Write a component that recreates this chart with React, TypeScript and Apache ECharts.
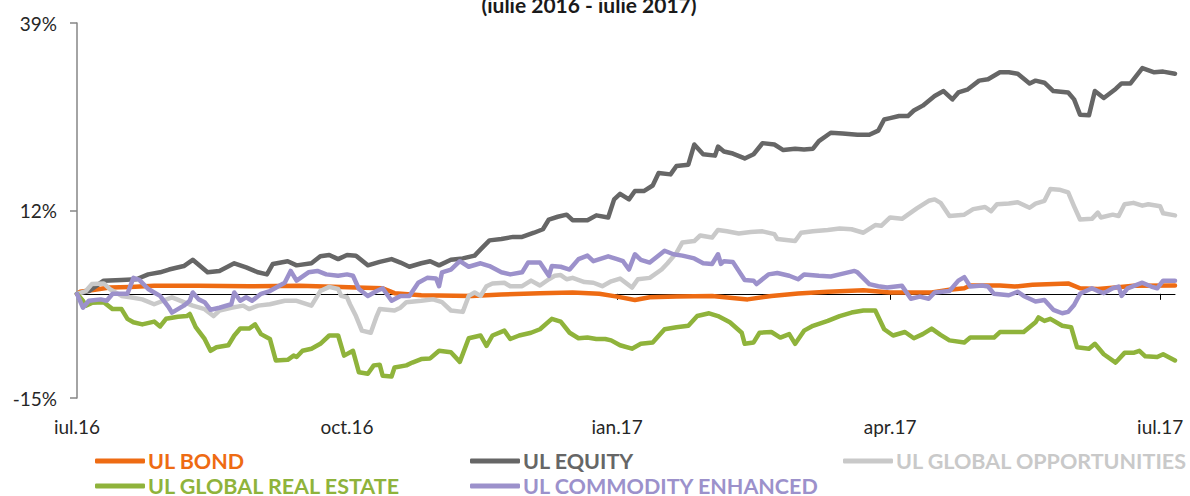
import React, { useEffect, useRef } from "react";
import * as echarts from "echarts";

// ---- tick labels (x axis, positions in days from start) ----
const tickDays = [0, 91, 182, 274, 365];
const tickLabels = ["iul.16", "oct.16", "ian.17", "apr.17", "iul.17"];
const yTicks = [-15, 12, 39];

const seriesNames = [
  "UL BOND",
  "UL EQUITY",
  "UL GLOBAL OPPORTUNITIES",
  "UL GLOBAL REAL ESTATE",
  "UL COMMODITY ENHANCED",
];
const seriesColors = ["#EE6B13", "#666666", "#C9C9C9", "#8FB33B", "#9C91CB"];

// ---- UL BOND ----
const bondDays = [0, 1, 6, 11, 18, 26, 41, 58, 75, 89, 94, 103, 107, 116, 133, 143, 156, 167, 176, 182, 188, 193, 202, 214, 226, 234, 243, 253, 265, 274, 288, 294, 299, 301, 311, 316, 322, 334, 338, 344, 350, 356, 370];
const bondValues = [0, 0.3, 0.6, 0.9, 1.0, 1.15, 1.15, 1.1, 1.15, 1.0, 0.9, 0.8, 0.1, -0.2, -0.3, -0.1, 0.1, 0.2, 0.0, -0.4, -0.9, -0.5, -0.4, -0.3, -0.8, -0.3, 0.05, 0.3, 0.5, 0.2, 0.2, 0.6, 0.8, 1.2, 1.2, 1.05, 1.3, 1.5, 0.8, 0.7, 0.9, 1.15, 1.2];

// ---- UL EQUITY ----
const equityDays = [0, 4, 9, 15, 20, 24, 28, 31, 36, 39, 44, 48, 53, 57, 61, 64, 66, 71, 74, 79, 82, 85, 88, 91, 94, 98, 102, 106, 109, 112, 116, 119, 122, 126, 130, 134, 136, 139, 143, 147, 150, 154, 157, 159, 162, 165, 167, 172, 175, 179, 181, 183, 186, 188, 191, 194, 196, 200, 202, 206, 208, 211, 215, 216, 218, 221, 225, 228, 231, 235, 238, 242, 245, 248, 250, 254, 258, 263, 267, 270, 272, 274, 277, 280, 282, 285, 289, 292, 295, 297, 300, 304, 307, 311, 314, 317, 321, 323, 326, 329, 334, 336, 338, 341, 343, 346, 350, 352, 355, 359, 363, 366, 370];
const equityValues = [0, 0.4, 1.9, 2.0, 2.1, 2.8, 3.1, 3.5, 4.0, 4.9, 3.1, 3.3, 4.4, 3.8, 3.1, 2.8, 4.3, 4.7, 4.1, 4.4, 5.4, 5.6, 5.0, 5.6, 5.5, 4.1, 4.6, 5.0, 4.5, 3.9, 4.4, 4.7, 4.1, 4.9, 5.1, 5.5, 6.4, 7.7, 7.9, 8.2, 8.2, 8.8, 9.3, 10.7, 11.1, 11.4, 10.6, 10.6, 11.3, 11.0, 13.6, 14.4, 13.6, 14.8, 14.8, 15.6, 17.4, 17.2, 18.4, 18.6, 21.5, 20.1, 19.9, 21.2, 20.5, 20.2, 19.5, 20.1, 21.7, 21.5, 20.7, 20.9, 20.8, 20.9, 22.0, 23.2, 23.1, 22.9, 22.9, 23.5, 25.1, 25.3, 25.6, 25.6, 26.4, 27.1, 28.5, 29.2, 28.0, 29.0, 29.4, 30.7, 30.9, 31.9, 31.9, 31.7, 30.3, 30.7, 30.4, 29.2, 29.0, 28.0, 25.8, 25.7, 29.2, 28.2, 29.5, 30.3, 30.3, 32.5, 31.9, 32.0, 31.7];

// ---- UL GLOBAL OPPORTUNITIES ----
const oppDays = [0, 3, 5, 9, 11, 15, 18, 22, 26, 29, 32, 36, 39, 43, 46, 48, 52, 56, 58, 61, 65, 70, 74, 79, 82, 85, 88, 89, 91, 92, 94, 96, 99, 101, 102, 107, 109, 111, 116, 120, 123, 126, 130, 132, 134, 136, 138, 140, 144, 146, 150, 153, 156, 159, 161, 163, 165, 167, 171, 174, 177, 180, 183, 187, 189, 193, 197, 199, 202, 204, 208, 210, 214, 216, 219, 223, 227, 231, 235, 236, 242, 244, 248, 253, 257, 261, 265, 269, 271, 274, 278, 280, 283, 287, 289, 291, 294, 299, 302, 306, 308, 310, 314, 317, 321, 323, 326, 328, 331, 334, 336, 338, 342, 344, 345, 349, 351, 353, 356, 359, 361, 365, 366, 370];
const oppValues = [0, 0.4, 1.4, 1.5, 0.7, -0.3, -0.5, -0.8, -1.5, -1.0, -0.5, -1.2, -1.7, -2.2, -3.2, -2.4, -2.0, -1.7, -2.2, -1.7, -1.5, -1.0, -1.0, -1.7, 0.4, 1.0, 0.7, -0.3, -0.5, -1.5, -3.2, -5.3, -5.6, -3.2, -2.2, -2.4, -2.0, -1.2, -1.0, -0.8, -1.2, -2.4, -2.6, -0.3, 0.2, -0.3, 1.1, 1.5, 1.6, 1.1, 1.1, 1.9, 1.2, 2.1, 2.6, 2.7, 2.1, 2.3, 1.7, 1.6, 1.1, 1.8, 2.2, 0.9, 2.1, 2.3, 3.5, 4.4, 5.9, 7.4, 7.6, 8.4, 8.1, 9.2, 9.0, 8.7, 8.9, 9.0, 8.6, 7.9, 7.6, 8.8, 9.0, 9.2, 9.4, 9.3, 8.8, 9.9, 9.8, 11.0, 10.8, 11.4, 12.3, 13.4, 13.6, 13.1, 11.2, 11.4, 12.2, 12.5, 11.9, 12.9, 13.0, 13.2, 12.4, 13.0, 13.4, 15.1, 15.0, 14.6, 12.6, 10.7, 10.8, 11.7, 11.0, 11.4, 11.2, 12.9, 13.1, 12.7, 12.9, 12.6, 11.6, 11.3];

// ---- UL GLOBAL REAL ESTATE ----
const reDays = [0, 2, 3, 5, 9, 12, 15, 17, 19, 22, 26, 28, 30, 34, 37, 38, 40, 43, 45, 47, 51, 53, 55, 58, 60, 62, 65, 67, 71, 73, 74, 76, 79, 82, 85, 88, 90, 93, 95, 98, 100, 102, 103, 106, 107, 111, 113, 116, 119, 122, 126, 129, 132, 136, 138, 140, 144, 146, 149, 153, 156, 160, 163, 166, 169, 172, 175, 178, 180, 183, 187, 190, 194, 198, 202, 206, 209, 213, 216, 220, 224, 225, 228, 230, 234, 237, 240, 242, 245, 248, 253, 257, 261, 265, 269, 272, 275, 279, 282, 285, 288, 291, 294, 299, 301, 309, 311, 319, 323, 324, 326, 328, 332, 335, 337, 341, 343, 346, 350, 353, 356, 358, 360, 364, 366, 370];
const reValues = [0, -1.0, -1.7, -1.3, -1.2, -2.2, -2.2, -3.6, -4.1, -4.4, -4.0, -4.7, -3.6, -3.3, -3.2, -2.9, -4.8, -6.5, -8.2, -7.7, -7.4, -6.0, -5.0, -5.0, -4.4, -5.8, -6.5, -9.6, -9.5, -8.9, -9.1, -8.2, -7.9, -7.2, -6.0, -6.0, -8.9, -8.2, -11.3, -11.5, -10.3, -10.2, -11.8, -11.9, -10.6, -10.3, -9.9, -9.4, -9.3, -8.2, -8.4, -9.8, -6.4, -6.0, -7.5, -6.0, -5.3, -6.5, -6.0, -5.6, -5.1, -3.6, -4.0, -5.6, -6.4, -6.3, -6.5, -6.5, -6.7, -7.4, -7.9, -7.2, -7.0, -5.1, -4.8, -4.6, -3.2, -2.8, -3.2, -4.1, -5.6, -7.2, -7.0, -5.6, -5.5, -6.3, -5.8, -7.2, -5.3, -4.6, -3.9, -3.2, -2.7, -2.4, -2.4, -5.1, -6.0, -5.5, -6.4, -5.8, -5.0, -5.9, -6.7, -7.0, -6.3, -6.3, -5.5, -5.5, -4.1, -3.4, -3.9, -3.6, -4.6, -4.8, -7.7, -7.9, -7.2, -8.7, -9.9, -8.5, -8.5, -8.2, -9.0, -9.1, -8.7, -9.6];

// ---- UL COMMODITY ENHANCED ----
const comDays = [0, 2, 4, 8, 10, 12, 17, 19, 21, 24, 26, 28, 31, 32, 36, 38, 39, 41, 43, 45, 48, 52, 53, 55, 57, 59, 62, 65, 70, 72, 74, 78, 81, 84, 88, 91, 93, 95, 98, 101, 103, 106, 109, 112, 115, 118, 121, 122, 123, 126, 129, 132, 136, 139, 143, 146, 150, 152, 156, 159, 160, 163, 166, 169, 172, 174, 179, 182, 184, 186, 188, 190, 193, 198, 201, 204, 208, 211, 214, 216, 217, 218, 221, 225, 228, 229, 233, 236, 240, 243, 245, 250, 254, 257, 262, 263, 267, 270, 273, 278, 281, 284, 287, 289, 294, 297, 299, 301, 305, 307, 309, 314, 317, 319, 323, 326, 329, 332, 334, 336, 338, 342, 344, 346, 349, 351, 352, 354, 359, 362, 364, 366, 370];
const comValues = [0, -2.0, -1.0, -0.8, -1.0, 0, 0, 2.3, 2.0, 0.7, 0.2, -0.3, -2.0, -2.7, -1.7, -1.0, 0.2, -0.8, -1.2, -2.3, -2.0, -1.5, 0.2, -1.0, -0.5, -1.0, 0, 0.4, 1.6, 3.3, 1.9, 3.1, 3.3, 2.8, 2.6, 2.8, 2.6, 0.7, -0.3, 0.4, 0.8, -1.0, -0.3, -0.3, 1.6, 2.3, 2.2, 1.1, 3.1, 3.5, 4.7, 3.9, 4.4, 4.0, 3.1, 2.8, 3.1, 4.5, 4.5, 2.6, 4.0, 3.9, 3.5, 5.0, 5.5, 4.7, 5.4, 5.0, 4.7, 3.5, 5.7, 4.9, 4.5, 6.2, 5.7, 5.5, 5.1, 4.4, 4.3, 5.7, 4.3, 4.7, 4.6, 2.0, 1.9, 1.4, 2.8, 3.0, 2.6, 2.1, 2.8, 2.6, 2.5, 2.8, 3.3, 3.1, 1.4, 1.1, 0.9, 1.15, -0.7, -0.4, -0.7, 0.2, 0.4, 1.9, 2.4, 1.05, 1.2, 1.05, 0, -0.2, 0.3, -0.3, -1.1, -0.9, -2.3, -2.8, -2.6, -1.6, 0, 0.8, 0.4, 0.1, 0.8, 1.05, -0.3, 0.8, 1.6, 1.05, 0.8, 1.9, 1.9];

const allDays = [bondDays, equityDays, oppDays, reDays, comDays];
const allValues = [bondValues, equityValues, oppValues, reValues, comValues];

const FONT = "Lato, 'Noto Sans', sans-serif";

export default function App() {
  const ref = useRef<HTMLDivElement>(null);

  useEffect(() => {
    if (!ref.current) return;
    const chart = echarts.init(ref.current, null, { renderer: "svg" });

    const series = seriesNames.map((name, i) => ({
      name,
      type: "line",
      showSymbol: false,
      symbol: "none",
      color: seriesColors[i],
      lineStyle: { width: 4.5, color: seriesColors[i], cap: "round", join: "round" },
      data: allDays[i].map((d, k) => [d, allValues[i][k]]),
    }));

    const legendPos = [
      { left: 95, top: 450 },
      { left: 470, top: 450 },
      { left: 843, top: 450 },
      { left: 95, top: 475 },
      { left: 470, top: 475 },
    ];

    const legends = seriesNames.map((name, i) => ({
      data: [name],
      left: legendPos[i].left,
      top: legendPos[i].top,
      padding: 0,
      icon: "roundRect",
      itemWidth: 50,
      itemHeight: 5,
      selectedMode: false,
      textStyle: {
        color: seriesColors[i],
        fontFamily: FONT,
        fontWeight: "bold",
        fontSize: 21.5,
        lineHeight: 20,
        padding: [0, 0, 0, -2],
      },
    }));

    chart.setOption({
      animation: false,
      backgroundColor: "#ffffff",
      grid: { left: 77, right: 15, top: 23, bottom: 98, containLabel: false },
      legend: legends,
      graphic: [
        {
          type: "text",
          x: 589,
          y: 4,
          style: {
            text: "(iulie 2016 - iulie 2017)",
            fill: "#1a1a1a",
            font: `bold 21px ${FONT}`,
            textAlign: "center",
            textVerticalAlign: "middle",
          },
        },
      ],
      xAxis: [
        {
          type: "value",
          min: 0,
          max: 370,
          position: "bottom",
          axisLine: { show: false, onZero: false },
          axisTick: { show: false },
          splitLine: { show: false },
          axisLabel: {
            customValues: tickDays,
            margin: 19,
            fontSize: 19,
            fontFamily: FONT,
            color: "#262626",
            formatter: (v: number) => {
              const idx = tickDays.indexOf(v);
              return idx >= 0 ? tickLabels[idx] : "";
            },
          },
        },
        {
          type: "value",
          min: 0,
          max: 370,
          position: "bottom",
          axisLine: { show: true, onZero: true, lineStyle: { color: "#000000", width: 1 } },
          axisTick: {
            show: true,
            customValues: tickDays,
            length: 6,
            lineStyle: { color: "#000000", width: 1 },
          },
          axisLabel: { show: false },
          splitLine: { show: false },
        },
      ],
      yAxis: {
        type: "value",
        min: -15,
        max: 39,
        axisLine: { show: true, onZero: false, lineStyle: { color: "#868686", width: 1.5 } },
        axisTick: {
          show: true,
          customValues: yTicks,
          length: 7,
          lineStyle: { color: "#868686", width: 1.5 },
        },
        splitLine: { show: false },
        axisLabel: {
          customValues: yTicks,
          margin: 20,
          fontSize: 19,
          fontFamily: FONT,
          color: "#262626",
          formatter: (v: number) => `${v}%`,
        },
      },
      series,
    });

    return () => chart.dispose();
  }, []);

  return (
    <div
      ref={ref}
      style={{ position: "fixed", left: 0, top: 0, width: 1190, height: 496, background: "#fff" }}
    />
  );
}
